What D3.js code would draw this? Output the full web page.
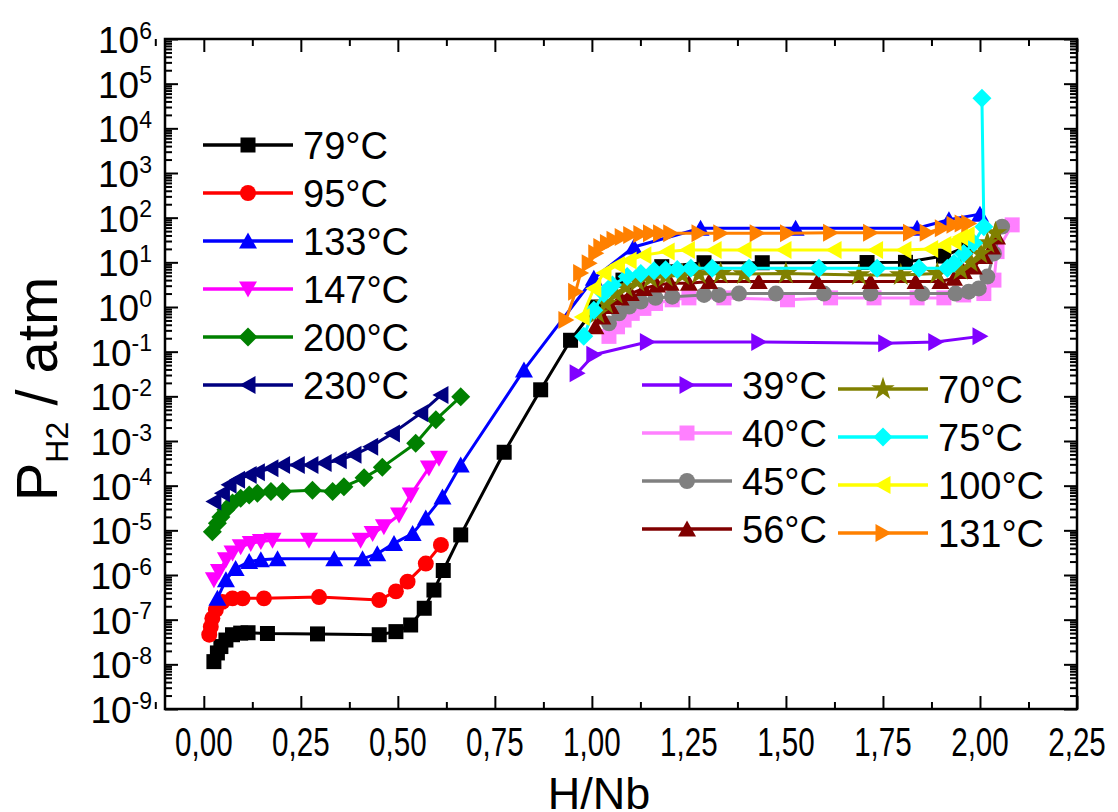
<!DOCTYPE html>
<html>
<head>
<meta charset="utf-8">
<style>
  body { margin: 0; background: #fff; }
  text { font-family: Arial, "Liberation Sans", sans-serif; fill: #000; }
</style>
</head>
<body>
<svg width="1118" height="812"></svg>
<script src="https://d3js.org/d3.v7.min.js"></script>
<script>

// [H/Nb, P(atm)]
var t79 = [[0.026,1.15e-8],[0.035,1.8e-8],[0.044,2.5e-8],[0.057,3.5e-8],[0.074,4.6e-8],[0.095,5.0e-8],[0.114,5.1e-8],
  [0.164,4.9e-8],[0.293,4.8e-8],[0.452,4.6e-8],[0.495,5.4e-8],[0.533,7.6e-8],[0.568,1.8e-7],[0.593,4.6e-7],
  [0.617,1.26e-6],[0.662,7.9e-6],[0.774,5.6e-4],[0.868,1.4e-2],[0.945,0.18],[1.01,1.0],[1.08,4.0],[1.18,8.0],
  [1.289,9.8],[1.439,9.8],[1.709,9.9],[1.808,10],[1.906,13.8],[1.963,22]];
var t95 = [[0.014,4.6e-8],[0.018,6.9e-8],[0.022,1.07e-7],[0.031,1.66e-7],[0.048,2.5e-7],[0.074,3.0e-7],[0.1,3.0e-7],
  [0.155,3.0e-7],[0.297,3.2e-7],[0.452,2.75e-7],[0.495,4.3e-7],[0.525,7.1e-7],[0.572,1.8e-6],[0.611,4.7e-6]];
var t133 = [[0.035,3.0e-7],[0.057,7.8e-7],[0.082,1.4e-6],[0.117,2.0e-6],[0.147,2.2e-6],[0.19,2.3e-6],[0.336,2.3e-6],
  [0.409,2.3e-6],[0.447,3.0e-6],[0.49,5.1e-6],[0.538,8.5e-6],[0.572,1.9e-5],[0.615,5.6e-5],[0.662,2.9e-4],
  [0.825,3.9e-2],[1.005,4.4],[1.108,22],[1.28,58],[1.525,58],[1.838,58],[1.92,90],[2.0,120]];
var t147 = [[0.026,7.8e-7],[0.039,1.2e-6],[0.057,2.2e-6],[0.074,3.1e-6],[0.095,4.3e-6],[0.121,5.1e-6],[0.147,5.6e-6],
  [0.177,6.0e-6],[0.271,6.0e-6],[0.404,6.0e-6],[0.435,8.5e-6],[0.464,1.2e-5],[0.503,2.2e-5],[0.533,6.2e-5],
  [0.58,2.5e-4],[0.606,4.1e-4]];
var t200 = [[0.022,9.3e-6],[0.035,1.45e-5],[0.044,2.0e-5],[0.057,2.9e-5],[0.074,4.1e-5],[0.095,5.2e-5],[0.117,6.2e-5],
  [0.138,6.8e-5],[0.173,7.4e-5],[0.203,7.4e-5],[0.28,7.9e-5],[0.332,7.4e-5],[0.361,9.5e-5],[0.413,1.5e-4],
  [0.46,2.6e-4],[0.546,8.9e-4],[0.598,3.0e-3],[0.662,9.8e-3]];
var t230 = [[0.026,4.4e-5],[0.048,6.8e-5],[0.065,1.05e-4],[0.087,1.35e-4],[0.117,1.74e-4],[0.138,2.0e-4],[0.173,2.45e-4],
  [0.203,2.9e-4],[0.241,2.9e-4],[0.276,2.9e-4],[0.31,3.2e-4],[0.349,3.7e-4],[0.387,4.9e-4],[0.43,7.4e-4],
  [0.486,1.48e-3],[0.559,4.2e-3],[0.611,1.07e-2]];
var t39 = [[0.962,0.033],[1.005,0.085],[1.143,0.165],[1.43,0.165],[1.757,0.155],[1.886,0.165],[2.0,0.22]];
var t40 = [[1.044,0.22],[1.066,0.36],[1.083,0.51],[1.104,0.72],[1.134,0.93],[1.164,1.2],[1.207,1.45],[1.25,1.6],
  [1.34,1.6],[1.504,1.45],[1.615,1.6],[1.727,1.6],[1.838,1.6],[1.907,1.6],[1.958,1.86],[2.01,2.0],[2.036,4.0],
  [2.044,17.4],[2.083,69]];
var t45 = [[1.044,0.43],[1.07,0.72],[1.096,1.02],[1.126,1.32],[1.164,1.6],[1.207,1.7],[1.289,1.86],[1.327,1.86],
  [1.379,2.0],[1.474,2.0],[1.598,2.0],[1.718,2.0],[1.851,2.0],[1.937,2.0],[1.971,2.2],[1.997,2.6],[2.019,4.8],
  [2.036,15.8],[2.057,63]];
var t56 = [[1.009,0.36],[1.027,0.6],[1.048,1.02],[1.074,1.6],[1.1,2.0],[1.134,2.6],[1.168,3.1],[1.203,3.4],[1.25,3.4],
  [1.302,3.7],[1.43,3.7],[1.581,3.7],[1.718,3.7],[1.834,3.7],[1.898,3.7],[1.933,4.4],[1.958,6.2],[1.984,7.9],
  [2.01,13.5],[2.031,22],[2.044,37]];
var t70 = [[1.014,0.72],[1.036,1.2],[1.061,2.0],[1.087,2.8],[1.117,3.7],[1.151,4.4],[1.19,4.8],[1.233,5.2],[1.276,5.5],
  [1.332,5.6],[1.392,5.5],[1.5,5.6],[1.688,5.2],[1.796,5.2],[1.89,5.6],[1.95,6.8],[1.976,10.2],[2.001,15.8],
  [2.019,27],[2.04,45]];
var t75 = [[0.979,0.22],[1.005,0.85],[1.031,2.0],[1.053,3.1],[1.091,4.8],[1.126,5.6],[1.16,6.5],[1.19,6.8],[1.22,6.9],
  [1.255,7.4],[1.31,7.4],[1.405,7.4],[1.585,7.4],[1.735,7.4],[1.843,7.4],[1.916,7.4],[1.933,9.5],[1.958,15.8],
  [1.984,27],[2.01,63],[2.005,4.7e4]];
var t100 = [[0.975,0.6],[1.005,2.6],[1.031,5.8],[1.066,8.7],[1.096,11],[1.134,14.5],[1.194,17.4],[1.246,19],[1.315,19],
  [1.392,19],[1.495,19],[1.624,19],[1.731,19],[1.804,19],[1.873,20],[1.907,24.5],[1.933,29],[1.95,37],[1.967,41]];
var t131 = [[0.933,0.51],[0.958,2.2],[0.971,5.8],[0.993,9.5],[1.01,16],[1.023,22],[1.04,27],[1.057,32],[1.078,37],
  [1.1,41],[1.126,43],[1.151,45],[1.177,45],[1.203,45],[1.276,45],[1.332,45],[1.426,45],[1.504,45],[1.615,46],
  [1.718,46],[1.821,46],[1.864,46],[1.903,58],[1.933,69],[1.954,74],[1.971,74]];

var labelsA = ["79°C", "95°C", "133°C", "147°C", "200°C", "230°C"];
var labelsB = ["39°C", "40°C", "45°C", "56°C", "70°C", "75°C", "100°C", "131°C"];
var xTicks = [0, 0.25, 0.5, 0.75, 1, 1.25, 1.5, 1.75, 2, 2.25];
var yExps = d3.range(-9, 7);

var series = [
  {name: labelsA[0], data: t79,  color: "#000000", shape: "square"},
  {name: labelsA[1], data: t95,  color: "#ff0000", shape: "circle"},
  {name: labelsA[2], data: t133, color: "#0000ff", shape: "up"},
  {name: labelsA[3], data: t147, color: "#ff00ff", shape: "down"},
  {name: labelsA[4], data: t200, color: "#008000", shape: "diamond"},
  {name: labelsA[5], data: t230, color: "#000080", shape: "left"},
  {name: labelsB[0], data: t39,  color: "#8000ff", shape: "right"},
  {name: labelsB[1], data: t40,  color: "#ff80ff", shape: "square"},
  {name: labelsB[2], data: t45,  color: "#808080", shape: "circle"},
  {name: labelsB[3], data: t56,  color: "#800000", shape: "up"},
  {name: labelsB[4], data: t70,  color: "#808000", shape: "star"},
  {name: labelsB[5], data: t75,  color: "#00ffff", shape: "diamond"},
  {name: labelsB[6], data: t100, color: "#ffff00", shape: "left"},
  {name: labelsB[7], data: t131, color: "#ff8000", shape: "right"}
];

var svg = d3.select("svg"),
    pLeft = 165, pRight = 1077, pTop = 39, pBottom = 709;

svg.append("rect").attr("width", 1118).attr("height", 812).attr("fill", "#fff");

var x = d3.scaleLinear().domain([-0.1, 2.25]).range([pLeft, pRight]);
var y = d3.scaleLog().domain([1e-9, 1e6]).range([pBottom, pTop]);

var yMajor = yExps.map(function(e) { return Math.pow(10, e); });
var yMinor = [];
yExps.slice(0, -1).forEach(function(e) {
  for (var k = 2; k < 10; k++) yMinor.push(k * Math.pow(10, e));
});
var xMinor = d3.range(-0.125, 2.25, 0.25);

// ticks on all four sides, pointing in
function tickAxis(axis, scale, vals, size, tr) {
  var g = svg.append("g")
      .attr("transform", tr)
      .call(axis(scale).tickValues(vals).tickSize(-size).tickFormat(""));
  g.select(".domain").remove();
  g.selectAll(".tick line").attr("stroke", "#000").attr("stroke-width", 2);
  return g;
}
tickAxis(d3.axisBottom, x, xTicks, 13, "translate(0," + pBottom + ")");
tickAxis(d3.axisBottom, x, xMinor, 7, "translate(0," + pBottom + ")");
tickAxis(d3.axisTop, x, xTicks, 13, "translate(0," + pTop + ")");
tickAxis(d3.axisTop, x, xMinor, 7, "translate(0," + pTop + ")");
tickAxis(d3.axisLeft, y, yMajor, 13, "translate(" + pLeft + ",0)");
tickAxis(d3.axisLeft, y, yMinor, 7, "translate(" + pLeft + ",0)");
tickAxis(d3.axisRight, y, yMajor, 13, "translate(" + pRight + ",0)");
tickAxis(d3.axisRight, y, yMinor, 7, "translate(" + pRight + ",0)");

svg.append("rect")
    .attr("x", pLeft).attr("y", pTop)
    .attr("width", pRight - pLeft).attr("height", pBottom - pTop)
    .attr("fill", "none").attr("stroke", "#000").attr("stroke-width", 2.5);

// tick labels
svg.append("g").selectAll("text")
  .data(xTicks)
  .enter().append("text")
    .attr("transform", function(d) { return "translate(" + x(d) + "," + (pBottom + 47) + ") scale(0.74,1)"; })
    .attr("text-anchor", "middle")
    .style("font-size", "40px")
    .text(function(d) { return d3.format(".2f")(d).replace(".", ","); });

var yl = svg.append("g").selectAll("text")
  .data(yExps)
  .enter().append("text")
    .attr("x", 152)
    .attr("y", function(d) { return y(Math.pow(10, d)) + 14; })
    .attr("text-anchor", "end")
    .style("font-size", "37px");
yl.append("tspan").text("10");
yl.append("tspan")
    .attr("dy", "-0.62em")
    .style("font-size", "23px")
    .text(function(d) { return d; });

// axis titles
svg.append("text")
    .attr("x", 599)
    .attr("y", 809)
    .attr("text-anchor", "middle")
    .style("font-size", "45px")
    .text("H/Nb");

var yt = svg.append("text")
    .attr("transform", "translate(57,389) rotate(-90)")
    .attr("text-anchor", "middle")
    .style("font-size", "58px");
yt.append("tspan").text("P");
yt.append("tspan").attr("dy", "0.35em").style("font-size", "32px").text("H2");
yt.append("tspan").attr("dy", "-0.19em").text(" / atm");

// marker shapes
function shape(type) {
  switch (type) {
    case "square": return "M-7.5,-7.5H7.5V7.5H-7.5Z";
    case "circle": return d3.symbol(d3.symbolCircle, 200)();
    case "up": return "M0,-8.5L9,7.5H-9Z";
    case "down": return "M0,8.5L9,-7.5H-9Z";
    case "left": return "M-8.5,0L7.5,-9V9Z";
    case "right": return "M8.5,0L-7.5,-9V9Z";
    case "diamond": return "M0,-9.5L9.5,0L0,9.5L-9.5,0Z";
    case "star": return d3.symbol(d3.symbolStar, 170)();
  }
}

var line = d3.line()
    .x(function(d) { return x(d[0]); })
    .y(function(d) { return y(d[1]); });

var plot = svg.append("g");
series.forEach(function(s) {
  var g = plot.append("g");
  g.append("path")
      .datum(s.data)
      .attr("fill", "none")
      .attr("stroke", s.color)
      .attr("stroke-width", 3)
      .attr("stroke-linejoin", "round")
      .attr("d", line);
  g.selectAll("path.m")
    .data(s.data)
    .enter().append("path")
      .attr("class", "m")
      .attr("transform", function(d) { return "translate(" + x(d[0]) + "," + y(d[1]) + ")"; })
      .attr("fill", s.color)
      .attr("d", shape(s.shape));
});

// legends
function legendItem(s, lx, ly) {
  var g = svg.append("g").attr("transform", "translate(" + lx + "," + ly + ")");
  g.append("line")
      .attr("x1", 0).attr("x2", 90)
      .attr("stroke", s.color).attr("stroke-width", 3.5);
  g.append("path")
      .attr("transform", "translate(45,0)")
      .attr("fill", s.color)
      .attr("d", shape(s.shape));
  g.append("text")
      .attr("x", 100).attr("y", 14)
      .style("font-size", "38px")
      .text(s.name);
}
series.slice(0, 6).forEach(function(s, i) { legendItem(s, 203, 145 + i * 48); });
series.slice(6, 10).forEach(function(s, i) { legendItem(s, 642, 385 + i * 48); });
series.slice(10).forEach(function(s, i) { legendItem(s, 838, 389 + i * 48); });

</script>
</body>
</html>
